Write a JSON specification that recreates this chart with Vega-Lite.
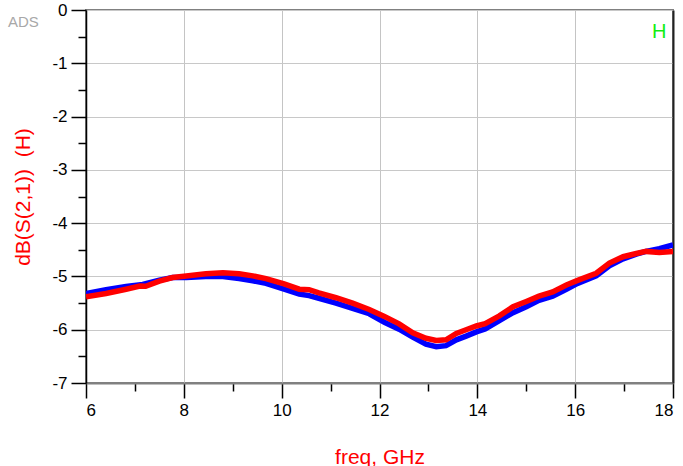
{
  "$schema": "https://vega.github.io/schema/vega-lite/v6.json",
  "autosize": "none",
  "width": 587,
  "height": 373,
  "padding": {"left": 86, "top": 10, "right": 10, "bottom": 83},
  "background": "white",
  "config": {
    "view": {"stroke": "#808080", "strokeWidth": 2},
    "font": "Liberation Sans"
  },
  "datasets": {
    "curves": [
      {"freq": 6.0, "dB": -5.38, "trace": "red"},
      {"freq": 6.41, "dB": -5.32, "trace": "red"},
      {"freq": 6.82, "dB": -5.24, "trace": "red"},
      {"freq": 7.1, "dB": -5.18, "trace": "red"},
      {"freq": 7.22, "dB": -5.185, "trace": "red"},
      {"freq": 7.5, "dB": -5.09, "trace": "red"},
      {"freq": 7.77, "dB": -5.02, "trace": "red"},
      {"freq": 8.05, "dB": -4.99, "trace": "red"},
      {"freq": 8.45, "dB": -4.95, "trace": "red"},
      {"freq": 8.8, "dB": -4.93, "trace": "red"},
      {"freq": 9.13, "dB": -4.95, "trace": "red"},
      {"freq": 9.41, "dB": -4.99, "trace": "red"},
      {"freq": 9.68, "dB": -5.04, "trace": "red"},
      {"freq": 10.05, "dB": -5.14, "trace": "red"},
      {"freq": 10.36, "dB": -5.24, "trace": "red"},
      {"freq": 10.56, "dB": -5.25, "trace": "red"},
      {"freq": 10.76, "dB": -5.31, "trace": "red"},
      {"freq": 11.11, "dB": -5.4, "trace": "red"},
      {"freq": 11.45, "dB": -5.5, "trace": "red"},
      {"freq": 11.79, "dB": -5.62, "trace": "red"},
      {"freq": 12.1, "dB": -5.75, "trace": "red"},
      {"freq": 12.4, "dB": -5.89, "trace": "red"},
      {"freq": 12.68, "dB": -6.06, "trace": "red"},
      {"freq": 12.95, "dB": -6.16, "trace": "red"},
      {"freq": 13.16, "dB": -6.2, "trace": "red"},
      {"freq": 13.36, "dB": -6.19, "trace": "red"},
      {"freq": 13.57, "dB": -6.07, "trace": "red"},
      {"freq": 13.77, "dB": -6.0, "trace": "red"},
      {"freq": 13.98, "dB": -5.93, "trace": "red"},
      {"freq": 14.16, "dB": -5.885, "trace": "red"},
      {"freq": 14.45, "dB": -5.74, "trace": "red"},
      {"freq": 14.73, "dB": -5.57, "trace": "red"},
      {"freq": 15.0, "dB": -5.47, "trace": "red"},
      {"freq": 15.26, "dB": -5.37, "trace": "red"},
      {"freq": 15.54, "dB": -5.29, "trace": "red"},
      {"freq": 15.82, "dB": -5.16, "trace": "red"},
      {"freq": 16.05, "dB": -5.075, "trace": "red"},
      {"freq": 16.43, "dB": -4.94, "trace": "red"},
      {"freq": 16.7, "dB": -4.75, "trace": "red"},
      {"freq": 16.98, "dB": -4.63, "trace": "red"},
      {"freq": 17.25, "dB": -4.57, "trace": "red"},
      {"freq": 17.45, "dB": -4.53, "trace": "red"},
      {"freq": 17.72, "dB": -4.55, "trace": "red"},
      {"freq": 18.0, "dB": -4.53, "trace": "red"},
      {"freq": 6.0, "dB": -5.32, "trace": "blue"},
      {"freq": 6.41, "dB": -5.25, "trace": "blue"},
      {"freq": 6.82, "dB": -5.19, "trace": "blue"},
      {"freq": 7.16, "dB": -5.15, "trace": "blue"},
      {"freq": 7.5, "dB": -5.07, "trace": "blue"},
      {"freq": 7.77, "dB": -5.02, "trace": "blue"},
      {"freq": 8.05, "dB": -5.02, "trace": "blue"},
      {"freq": 8.45, "dB": -5.0, "trace": "blue"},
      {"freq": 8.8, "dB": -5.0, "trace": "blue"},
      {"freq": 9.13, "dB": -5.04, "trace": "blue"},
      {"freq": 9.41, "dB": -5.08, "trace": "blue"},
      {"freq": 9.68, "dB": -5.13, "trace": "blue"},
      {"freq": 10.05, "dB": -5.24, "trace": "blue"},
      {"freq": 10.36, "dB": -5.33, "trace": "blue"},
      {"freq": 10.56, "dB": -5.36, "trace": "blue"},
      {"freq": 10.76, "dB": -5.41, "trace": "blue"},
      {"freq": 11.11, "dB": -5.5, "trace": "blue"},
      {"freq": 11.45, "dB": -5.6, "trace": "blue"},
      {"freq": 11.79, "dB": -5.7, "trace": "blue"},
      {"freq": 12.1, "dB": -5.86, "trace": "blue"},
      {"freq": 12.4, "dB": -5.99, "trace": "blue"},
      {"freq": 12.68, "dB": -6.14, "trace": "blue"},
      {"freq": 12.95, "dB": -6.27, "trace": "blue"},
      {"freq": 13.16, "dB": -6.32, "trace": "blue"},
      {"freq": 13.36, "dB": -6.3, "trace": "blue"},
      {"freq": 13.57, "dB": -6.19, "trace": "blue"},
      {"freq": 13.77, "dB": -6.12, "trace": "blue"},
      {"freq": 13.98, "dB": -6.04, "trace": "blue"},
      {"freq": 14.16, "dB": -5.985, "trace": "blue"},
      {"freq": 14.45, "dB": -5.83, "trace": "blue"},
      {"freq": 14.73, "dB": -5.68, "trace": "blue"},
      {"freq": 15.0, "dB": -5.57, "trace": "blue"},
      {"freq": 15.26, "dB": -5.45, "trace": "blue"},
      {"freq": 15.54, "dB": -5.37, "trace": "blue"},
      {"freq": 15.82, "dB": -5.24, "trace": "blue"},
      {"freq": 16.05, "dB": -5.13, "trace": "blue"},
      {"freq": 16.43, "dB": -4.99, "trace": "blue"},
      {"freq": 16.7, "dB": -4.8, "trace": "blue"},
      {"freq": 16.98, "dB": -4.67, "trace": "blue"},
      {"freq": 17.25, "dB": -4.58, "trace": "blue"},
      {"freq": 17.45, "dB": -4.53, "trace": "blue"},
      {"freq": 17.72, "dB": -4.48, "trace": "blue"},
      {"freq": 18.0, "dB": -4.41, "trace": "blue"}
    ],
    "labels": [
      {"freq": 4.72, "dB": -0.22, "text": "ADS", "kind": "ads"},
      {"freq": 17.72, "dB": -0.42, "text": "H", "kind": "marker"}
    ]
  },
  "data": {"name": "curves"},
  "resolve": {"axis": {"y": "independent"}},
  "layer": [
    {
      "transform": [{"filter": "datum.trace === 'blue'"}],
      "mark": {"type": "line", "color": "#0000FF", "strokeWidth": 5.5, "clip": true},
      "encoding": {
        "x": {
          "field": "freq", "type": "quantitative",
          "scale": {"domain": [6, 18], "nice": false, "zero": false},
          "axis": {
            "values": [6, 7, 8, 9, 10, 11, 12, 13, 14, 15, 16, 17, 18],
            "labelExpr": "datum.value % 2 === 0 ? datum.label : ''",
            "labelFont": "Liberation Sans", "labelFontSize": 17, "labelColor": "#000000",
            "labelPadding": 4,
            "tickColor": "#000000", "tickWidth": 1.5,
            "tickSize": {"condition": {"test": "datum.value % 2 === 0", "value": 15}, "value": 8},
            "grid": true, "gridColor": "#C4C4C4", "gridWidth": 1,
            "gridOpacity": {"condition": {"test": "datum.value % 2 === 0", "value": 1}, "value": 0},
            "domainColor": "#808080", "domainWidth": 2,
            "title": "freq, GHz", "titleColor": "#FF0000", "titleFont": "Liberation Sans",
            "titleFontSize": 21, "titleFontWeight": "normal", "titlePadding": 28
          }
        },
        "y": {
          "field": "dB", "type": "quantitative",
          "scale": {"domain": [-7, 0], "nice": false, "zero": false},
          "axis": {
            "orient": "left",
            "values": [-7, -6.5, -6, -5.5, -5, -4.5, -4, -3.5, -3, -2.5, -2, -1.5, -1, -0.5, 0],
            "labelExpr": "datum.value % 1 === 0 ? ((datum.value < 0 ? '-' : '') + abs(datum.value)) : ''",
            "labelFont": "Liberation Sans", "labelFontSize": 17, "labelColor": "#000000",
            "labelPadding": 4,
            "tickColor": "#000000", "tickWidth": 1.5,
            "tickSize": {"condition": {"test": "datum.value % 1 === 0", "value": 15}, "value": 8},
            "grid": true, "gridColor": "#C8C8C8", "gridWidth": 1,
            "gridOpacity": {"condition": {"test": "datum.value % 1 === 0", "value": 1}, "value": 0},
            "domainColor": "#000000", "domainWidth": 1.5,
            "title": "dB(S(2,1))\u00a0\u00a0(H)", "titleColor": "#FF0000", "titleFont": "Liberation Sans",
            "titleFontSize": 21, "titleFontWeight": "normal", "titlePadding": 18
          }
        }
      }
    },
    {
      "transform": [{"filter": "datum.trace === 'red'"}],
      "mark": {"type": "line", "color": "#FF0000", "strokeWidth": 5.5, "clip": true},
      "encoding": {
        "x": {"field": "freq", "type": "quantitative"},
        "y": {
          "field": "dB", "type": "quantitative",
          "axis": {
            "orient": "right", "labels": false, "ticks": false, "grid": false,
            "domainColor": "#222222", "domainWidth": 2, "title": null
          }
        }
      }
    },
    {
      "data": {"name": "labels"},
      "mark": {"type": "text", "clip": false, "align": "center", "baseline": "middle"},
      "encoding": {
        "x": {"field": "freq", "type": "quantitative"},
        "y": {"field": "dB", "type": "quantitative", "axis": null},
        "text": {"field": "text"},
        "color": {
          "field": "kind", "type": "nominal",
          "scale": {"domain": ["ads", "marker"], "range": ["#A8A8A8", "#11EE11"]},
          "legend": null
        },
        "size": {
          "field": "kind", "type": "nominal",
          "scale": {"domain": ["ads", "marker"], "range": [15, 20]},
          "legend": null
        }
      }
    }
  ]
}
